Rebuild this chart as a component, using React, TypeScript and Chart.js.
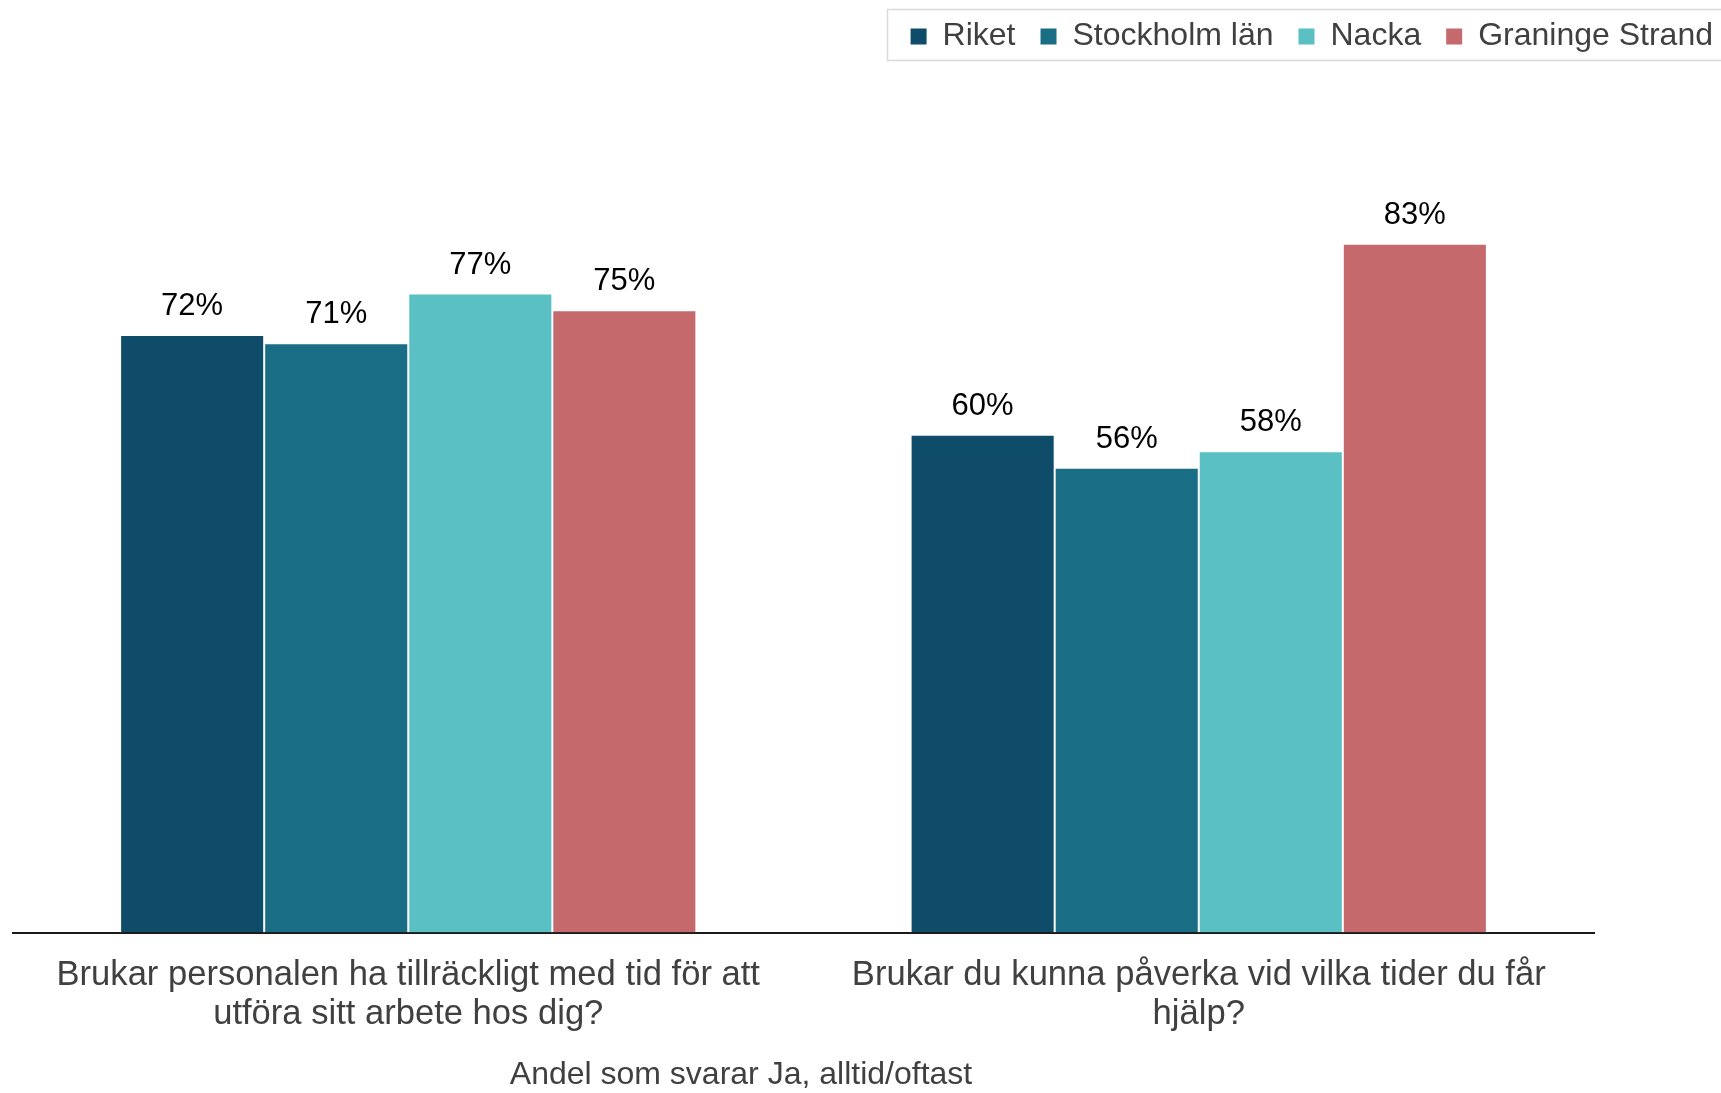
import React, { useEffect, useRef } from "react";
import { Chart, registerables } from "chart.js";

Chart.register(...registerables);

const categories: string[][] = [
  ["Brukar personalen ha tillräckligt med tid för att", "utföra sitt arbete hos dig?"],
  ["Brukar du kunna påverka vid vilka tider du får", "hjälp?"],
];
const seriesNames = ["Riket", "Stockholm län", "Nacka", "Graninge Strand"];
const riket = [72, 60];
const stockholm = [71, 56];
const nacka = [77, 58];
const graninge = [75, 83];
const axisTitle = "Andel som svarar Ja, alltid/oftast";

const colors = ["#0F4C6A", "#196E85", "#5AC0C4", "#C5696D"];
const FONT = "'Liberation Sans', Arial, sans-serif";

const valueLabels = {
  id: "valueLabels",
  afterDatasetsDraw(chart: any) {
    const ctx = chart.ctx;
    ctx.save();
    ctx.font = `31px ${FONT}`;
    ctx.fillStyle = "#000000";
    ctx.textAlign = "center";
    ctx.textBaseline = "middle";
    chart.data.datasets.forEach((ds: any, i: number) => {
      const meta = chart.getDatasetMeta(i);
      meta.data.forEach((bar: any, j: number) => {
        ctx.fillText(`${ds.data[j]}%`, bar.x, bar.y - 28.5);
      });
    });
    ctx.restore();
  },
};

const bottomTitle = {
  id: "bottomTitle",
  afterDraw(chart: any) {
    const ctx = chart.ctx;
    ctx.save();
    ctx.font = `32px ${FONT}`;
    ctx.fillStyle = "#404040";
    ctx.textAlign = "center";
    ctx.textBaseline = "middle";
    ctx.fillText(axisTitle, 741, 1075);
    ctx.restore();
  },
};

const legendFrame = {
  id: "legendFrame",
  afterLayout(chart: any) {
    const l = chart.legend;
    if (!l) return;
    l.left += 17;
    l.right += 17;
    l.top -= 4.5;
    l.bottom -= 4.5;
  },
  afterDraw(chart: any) {
    const ctx = chart.ctx;
    ctx.save();
    ctx.strokeStyle = "#d9d9d9";
    ctx.lineWidth = 1.5;
    ctx.strokeRect(887.5, 9.5, 840, 51);
    ctx.restore();
  },
};

export default function App() {
  const ref = useRef<HTMLCanvasElement | null>(null);
  useEffect(() => {
    document.body.style.margin = "0";
    const data = [riket, stockholm, nacka, graninge];
    const chart = new Chart(ref.current as HTMLCanvasElement, {
      type: "bar",
      data: {
        labels: categories,
        datasets: seriesNames.map((name, i) => ({
          label: name,
          data: data[i],
          backgroundColor: colors[i],
          borderColor: "#ffffff",
          borderWidth: 1,
          barPercentage: 1,
          categoryPercentage: 0.729,
        })),
      },
      options: {
        animation: false,
        responsive: false,
        maintainAspectRatio: false,
        layout: { padding: { left: 13, right: 0, top: 0, bottom: 35.6 } },
        plugins: {
          tooltip: { enabled: false },
          legend: {
            position: "top",
            align: "end",
            labels: {
              font: { family: FONT, size: 32 },
              color: "#404040",
              boxWidth: 16,
              boxHeight: 16,
              padding: 25,
              generateLabels: (c: any) =>
                Chart.defaults.plugins.legend.labels.generateLabels(c).map((it: any) => ({
                  ...it,
                  lineWidth: 0,
                  strokeStyle: "rgba(0,0,0,0)",
                })),
            },
          },
        },
        scales: {
          x: {
            grid: { display: false, drawTicks: false },
            border: { display: true, color: "#1a1a1a", width: 2 },
            ticks: {
              font: { family: FONT, size: 34.6, lineHeight: 1.11 },
              color: "#404040",
              padding: 24,
              maxRotation: 0,
              autoSkip: false,
            },
          },
          y: {
            position: "right",
            min: 0,
            max: 104.3,
            grid: { display: false, drawTicks: false },
            border: { display: false },
            ticks: { display: false },
            afterFit: (s: any) => {
              s.width = 127;
            },
          },
        },
      },
      plugins: [valueLabels, legendFrame, bottomTitle],
    });
    return () => chart.destroy();
  }, []);
  return (
    <div style={{ width: 1721, height: 1093 }}>
      <canvas ref={ref} width={1721} height={1093} style={{ width: 1721, height: 1093, display: "block" }} />
    </div>
  );
}
